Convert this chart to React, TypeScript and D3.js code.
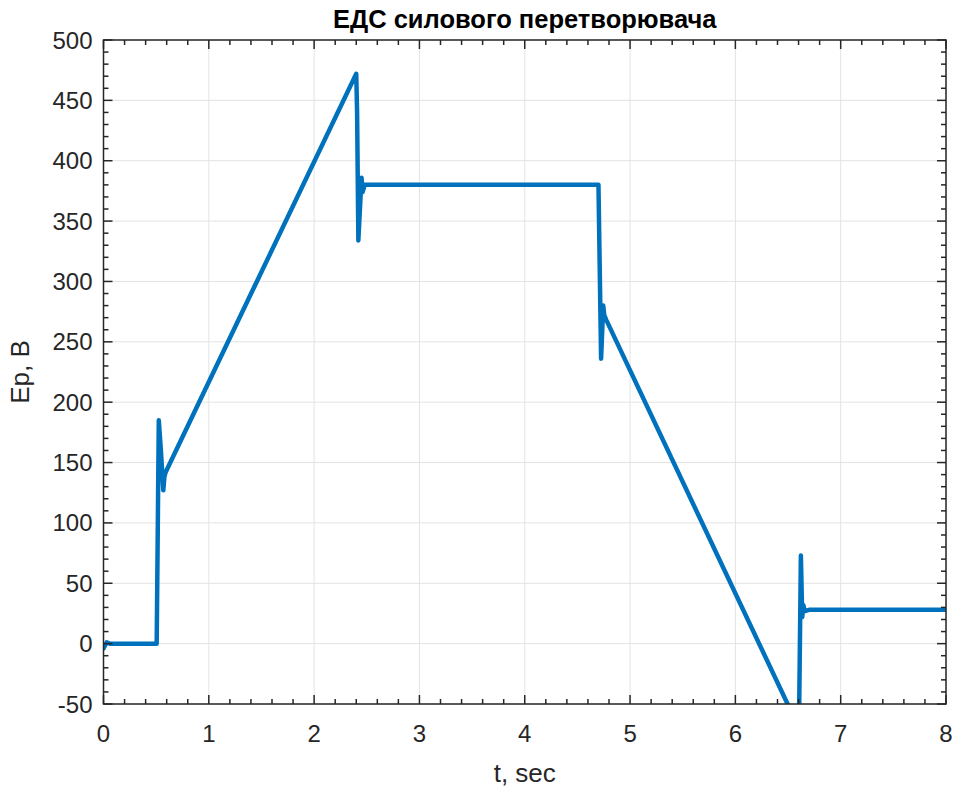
import React from 'react';
import * as d3 from 'd3';

// час, с
const timeValues = [
  0, 0.03, 0.06, 0.505, 0.525, 0.545, 0.568, 0.578, 0.59,
  2.4, 2.408, 2.42, 2.45, 2.46, 2.48,
  4.7, 4.725, 4.745, 4.755, 4.775,
  6.55, 6.605, 6.622, 6.635, 6.645, 6.66, 6.7, 8
];
// ЕДС, В
const epValues = [
  -4, 1, 0, 0, 185, 160, 127, 138, 142,
  472, 440, 334, 386, 374, 380,
  380, 236, 280, 272, 268,
  -60, -60, 73, 22, 32, 27, 28, 28
];
const xTicks = [0, 1, 2, 3, 4, 5, 6, 7, 8];
const yTicks = [-50, 0, 50, 100, 150, 200, 250, 300, 350, 400, 450, 500];

const W = 956;
const H = 787;
const margin = { top: 40, right: 10, bottom: 83, left: 103.5 };
const FONT = '"Liberation Sans", Arial, Helvetica, sans-serif';
const AXIS = '#262626';

export default function App() {
  const innerW = W - margin.left - margin.right;
  const innerH = H - margin.top - margin.bottom;

  const xScale = d3.scaleLinear().domain([0, 8]).range([0, innerW]);
  const yScale = d3.scaleLinear().domain([-50, 500]).range([innerH, 0]);

  const points: [number, number][] = timeValues.map((t, i) => [t, epValues[i]]);
  const line = d3
    .line<[number, number]>()
    .x(d => xScale(d[0]))
    .y(d => yScale(d[1]));

  const xMinor = d3.range(0, 8.001, 0.2).filter(v => Math.abs(v - Math.round(v)) > 1e-6);
  const yMinor = d3.range(-50, 500.001, 10).filter(v => v % 50 !== 0);

  const majorLen = 9;
  const minorLen = 5;

  return (
    <svg width={W} height={H} style={{ position: 'absolute', left: 0, top: 0, background: '#fff' }}>
      <defs>
        <clipPath id="plot-clip">
          <rect x={0} y={0} width={innerW} height={innerH} />
        </clipPath>
      </defs>
      <rect x={0} y={0} width={W} height={H} fill="#fff" />

      {/* заголовок */}
      <text
        x={margin.left + innerW / 2}
        y={28}
        textAnchor="middle"
        fontFamily={FONT}
        fontWeight="bold"
        fontSize={25.5}
        fill="#000"
      >
        ЕДС силового перетворювача
      </text>

      <g transform={`translate(${margin.left},${margin.top})`}>
        {/* сітка */}
        {xTicks.map(t => (
          <line key={'gx' + t} x1={xScale(t)} x2={xScale(t)} y1={0} y2={innerH} stroke="#e3e3e3" strokeWidth={1} />
        ))}
        {yTicks.map(t => (
          <line key={'gy' + t} x1={0} x2={innerW} y1={yScale(t)} y2={yScale(t)} stroke="#e3e3e3" strokeWidth={1} />
        ))}

        {/* крива */}
        <path
          d={line(points) || ''}
          fill="none"
          stroke="#0072BD"
          strokeWidth={4.5}
          strokeLinejoin="round"
          strokeLinecap="round"
          clipPath="url(#plot-clip)"
        />

        {/* засічки */}
        <g stroke={AXIS} strokeWidth={1.5}>
          {xTicks.map(t => (
            <g key={'tx' + t}>
              <line x1={xScale(t)} x2={xScale(t)} y1={innerH} y2={innerH - majorLen} />
              <line x1={xScale(t)} x2={xScale(t)} y1={0} y2={majorLen} />
            </g>
          ))}
          {xMinor.map(t => (
            <g key={'mx' + t}>
              <line x1={xScale(t)} x2={xScale(t)} y1={innerH} y2={innerH - minorLen} />
              <line x1={xScale(t)} x2={xScale(t)} y1={0} y2={minorLen} />
            </g>
          ))}
          {yTicks.map(t => (
            <g key={'ty' + t}>
              <line x1={0} x2={majorLen} y1={yScale(t)} y2={yScale(t)} />
              <line x1={innerW} x2={innerW - majorLen} y1={yScale(t)} y2={yScale(t)} />
            </g>
          ))}
          {yMinor.map(t => (
            <g key={'my' + t}>
              <line x1={0} x2={minorLen} y1={yScale(t)} y2={yScale(t)} />
              <line x1={innerW} x2={innerW - minorLen} y1={yScale(t)} y2={yScale(t)} />
            </g>
          ))}
          <rect x={0} y={0} width={innerW} height={innerH} fill="none" />
        </g>

        {/* підписи осей */}
        {xTicks.map(t => (
          <text
            key={'lx' + t}
            x={xScale(t)}
            y={innerH + 38}
            textAnchor="middle"
            fontFamily={FONT}
            fontSize={24}
            fill={AXIS}
          >
            {t}
          </text>
        ))}
        {yTicks.map(t => (
          <text
            key={'ly' + t}
            x={-11}
            y={yScale(t) + 8.5}
            textAnchor="end"
            fontFamily={FONT}
            fontSize={24}
            fill={AXIS}
          >
            {t}
          </text>
        ))}

        <text
          x={innerW / 2}
          y={innerH + 78}
          textAnchor="middle"
          fontFamily={FONT}
          fontSize={26}
          fill={AXIS}
        >
          t, sec
        </text>
        <text
          transform={`translate(${-75},${innerH / 2}) rotate(-90)`}
          textAnchor="middle"
          fontFamily={FONT}
          fontSize={26}
          fill={AXIS}
        >
          Ep, B
        </text>
      </g>
    </svg>
  );
}
